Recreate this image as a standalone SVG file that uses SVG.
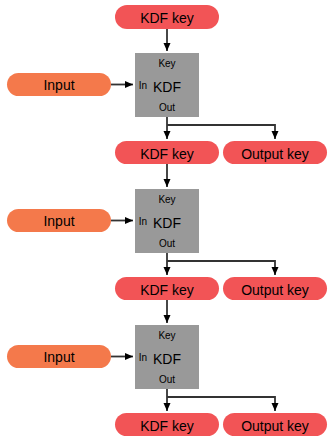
<svg xmlns="http://www.w3.org/2000/svg" width="336" height="442" viewBox="0 0 336 442">
<style>
.key{fill:#f25456}
.inp{fill:#f4794b}
.box{fill:#999999}
.t{font-family:"Liberation Sans",Arial,sans-serif;fill:#000;text-anchor:middle}
.big{font-size:14px}
.sm{font-size:10px}
.c{fill:none;stroke:#333;stroke-width:1.8}
</style>
<defs>
<marker id="ah" markerUnits="userSpaceOnUse" markerWidth="9" markerHeight="8" refX="8" refY="3.5" orient="auto">
<path d="M0,0 L8,3.5 L0,7 z" fill="#000"/>
</marker>
</defs>
<rect width="336" height="442" fill="#fff"/>
<g id="connectors">
<path class="c" d="M167,29 V51" marker-end="url(#ah)"/>
<path class="c" d="M111,84.5 H133" marker-end="url(#ah)"/>
<path class="c" d="M167,117 V139" marker-end="url(#ah)"/>
<path class="c" d="M167,125 H275 V139" marker-end="url(#ah)"/>
<path class="c" d="M167,164 V187" marker-end="url(#ah)"/>
<path class="c" d="M111,220.5 H133" marker-end="url(#ah)"/>
<path class="c" d="M167,253 V275" marker-end="url(#ah)"/>
<path class="c" d="M167,261 H275 V275" marker-end="url(#ah)"/>
<path class="c" d="M167,300 V323" marker-end="url(#ah)"/>
<path class="c" d="M111,356.5 H133" marker-end="url(#ah)"/>
<path class="c" d="M167,389 V411" marker-end="url(#ah)"/>
<path class="c" d="M167,397 H275 V411" marker-end="url(#ah)"/>
</g>
<g id="kdfkey0"><rect class="key" x="115" y="5" width="104" height="24" rx="12"/><text class="t big" x="167" y="23">KDF key</text></g>

<g id="input1"><rect class="inp" x="7" y="73" width="104" height="23" rx="11.5"/><text class="t big" x="59" y="90">Input</text></g>
<g id="kdf1"><rect class="box" x="135" y="53" width="64" height="64"/>
<text class="t sm" x="167" y="67">Key</text>
<text class="t big" x="167" y="91.5">KDF</text>
<text class="t sm" x="143" y="89">In</text>
<text class="t sm" x="167" y="111">Out</text></g>
<g id="kdfkey1"><rect class="key" x="115" y="141" width="104" height="23" rx="11.5"/><text class="t big" x="167" y="158.5">KDF key</text></g>
<g id="outkey1"><rect class="key" x="223" y="141" width="104" height="23" rx="11.5"/><text class="t big" x="275" y="158.5">Output key</text></g>

<g id="input2"><rect class="inp" x="7" y="209" width="104" height="23" rx="11.5"/><text class="t big" x="59" y="226">Input</text></g>
<g id="kdf2"><rect class="box" x="135" y="189" width="64" height="64"/>
<text class="t sm" x="167" y="203">Key</text>
<text class="t big" x="167" y="227.5">KDF</text>
<text class="t sm" x="143" y="225">In</text>
<text class="t sm" x="167" y="247">Out</text></g>
<g id="kdfkey2"><rect class="key" x="115" y="277" width="104" height="23" rx="11.5"/><text class="t big" x="167" y="294.5">KDF key</text></g>
<g id="outkey2"><rect class="key" x="223" y="277" width="104" height="23" rx="11.5"/><text class="t big" x="275" y="294.5">Output key</text></g>

<g id="input3"><rect class="inp" x="7" y="345" width="104" height="23" rx="11.5"/><text class="t big" x="59" y="362">Input</text></g>
<g id="kdf3"><rect class="box" x="135" y="325" width="64" height="64"/>
<text class="t sm" x="167" y="339">Key</text>
<text class="t big" x="167" y="363.5">KDF</text>
<text class="t sm" x="143" y="361">In</text>
<text class="t sm" x="167" y="383">Out</text></g>
<g id="kdfkey3"><rect class="key" x="115" y="413" width="104" height="23" rx="11.5"/><text class="t big" x="167" y="430.5">KDF key</text></g>
<g id="outkey3"><rect class="key" x="223" y="413" width="104" height="23" rx="11.5"/><text class="t big" x="275" y="430.5">Output key</text></g>
</svg>
